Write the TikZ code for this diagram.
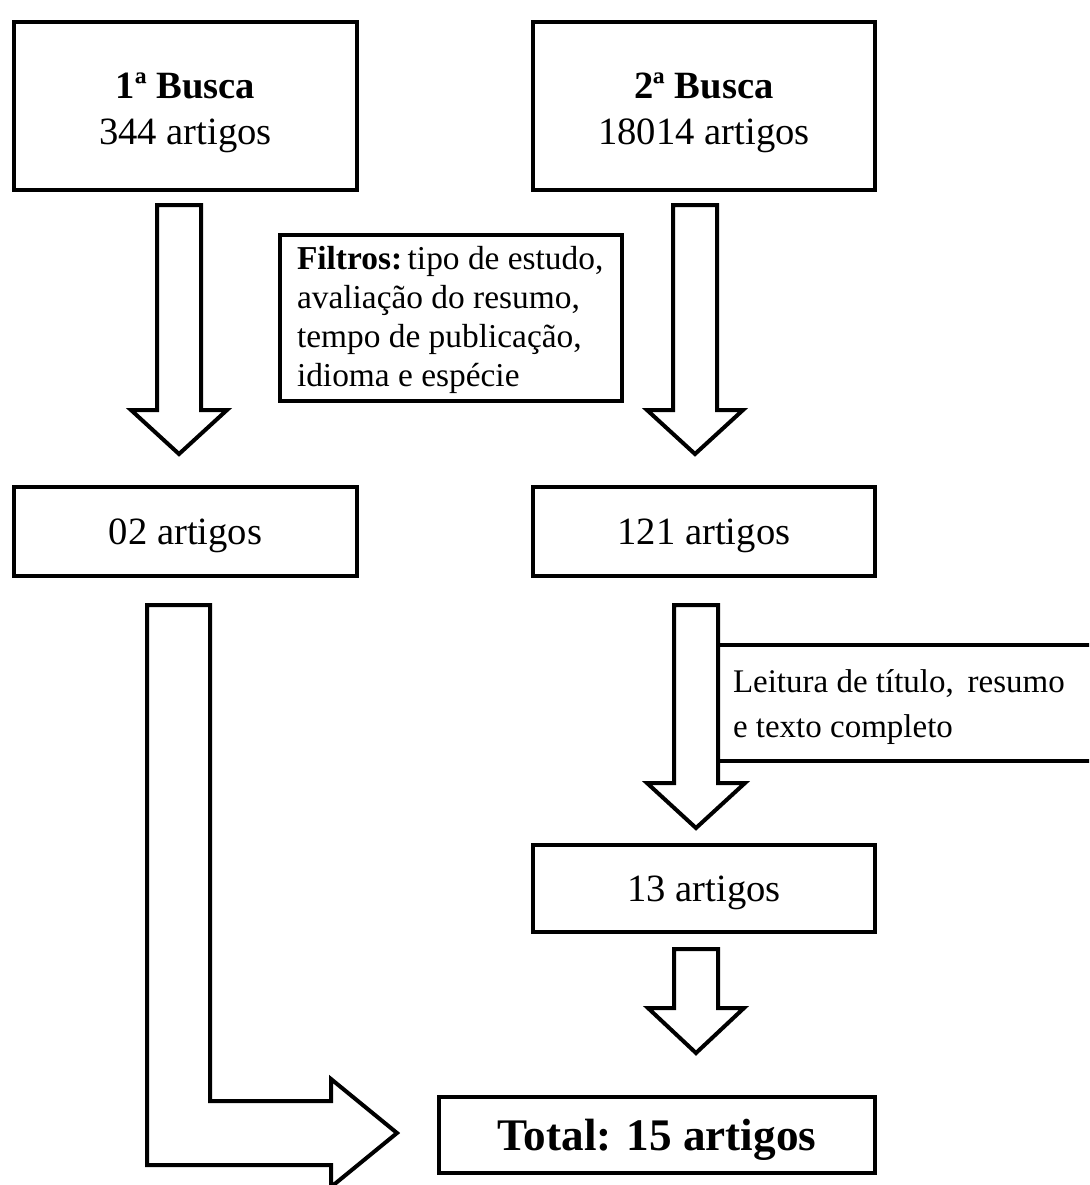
\documentclass[tikz,border=0pt]{standalone}
\usepackage{fontspec}
\setmainfont{Liberation Serif}
\newcommand\dnarrow[5]{% cx, top, base, tip, head half width
  \draw[blk] (#1-22,#2) -- (#1+22,#2) -- (#1+22,#3) -- (#1+#5,#3) -- (#1,#4) -- (#1-#5,#3) -- (#1-22,#3) -- cycle;}
\begin{document}
\begin{tikzpicture}[x=0.5pt,y=-0.5pt, line width=2pt, line join=miter,
  box/.style={draw, inner sep=0pt, fill=white},
  txt/.style={inner sep=0pt, align=center, font=\fontsize{19.3}{23}\selectfont},
  blk/.style={draw, fill=white, line join=miter}]
\useasboundingbox (0,0) rectangle (1089,1185);
\clip (0,0) rectangle (1089,1185);

% boxes
\node[box, minimum width=171.5pt, minimum height=84pt] (b1) at (185.5,106) {};
\node[txt] (b1t) at ([yshift=-3.5pt]b1.center) {\textbf{1ª Busca}\\344 artigos};
\node[box, minimum width=171pt, minimum height=84pt] (b2) at (704,106) {};
\node[txt] (b2t) at ([yshift=-3.5pt]b2.center) {\textbf{2ª Busca}\\18014 artigos};
\node[box, minimum width=171pt, minimum height=83pt] (filt) at (451,318) {};
\node[anchor=west, inner sep=0pt, align=left, font=\fontsize{16.7}{19.5}\selectfont] (filttext) at ([xshift=8.5pt,yshift=-1pt]filt.west)
  {\textbf{Filtros:}\,tipo de estudo,\\avaliação do resumo,\\tempo de publicação,\\idioma e espécie};
\node[box, minimum width=171.5pt, minimum height=44.5pt] (b02) at (185.5,531.5) {};
\node[txt] (b02t) at ([yshift=-2pt]b02.center) {02 artigos};
\node[box, minimum width=171pt, minimum height=44.5pt] (b121) at (704,531.5) {};
\node[txt] (b121t) at ([yshift=-2pt]b121.center) {121 artigos};
\node[box, minimum width=191pt, minimum height=58pt] (leit) at (909,703) {};
\node[anchor=west, inner sep=0pt, align=left, font=\fontsize{16.5}{22.5}\selectfont] (leittext) at ([xshift=7.5pt,yshift=-2pt]leit.west)
  {Leitura de título,\, resumo\\e texto completo};
\node[box, minimum width=171pt, minimum height=43.5pt] (b13) at (704,888.5) {};
\node[txt] (b13t) at ([yshift=-2pt]b13.center) {13 artigos};
\node[box, minimum width=218pt, minimum height=38pt] (total) at (657,1135) {};
\node[txt, font=\fontsize{22.6}{26}\selectfont] (totalt) at ([yshift=-2.5pt]total.center) {\textbf{Total: 15 artigos}};

% block arrows
\dnarrow{179}{205}{410}{454}{48}
\dnarrow{695}{205}{410}{454}{48}
\dnarrow{696}{605}{783}{828}{49}
\dnarrow{696}{949}{1008}{1053}{48}
\draw[blk] (147,605) -- (210,605) -- (210,1101) -- (331,1101) -- (331,1079)
  -- (397,1133) -- (331,1187) -- (331,1165) -- (147,1165) -- cycle;
\end{tikzpicture}
\end{document}
